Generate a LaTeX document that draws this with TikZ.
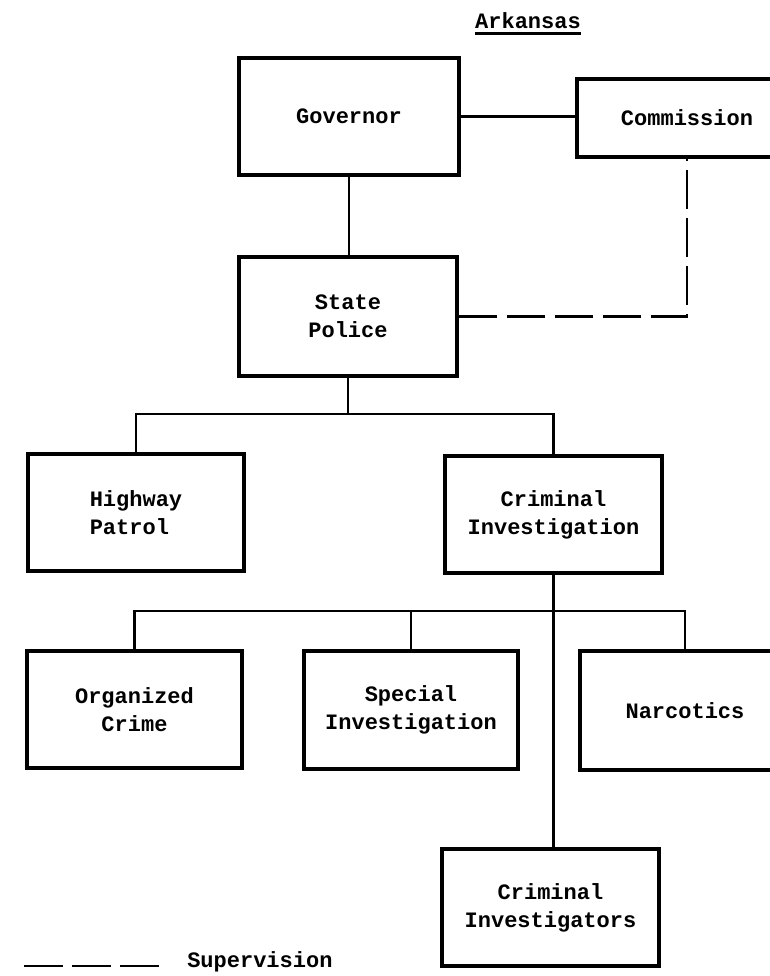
\documentclass[tikz,border=0pt]{standalone}
\usepackage{fontspec}
\setmonofont{Liberation Mono}
\begin{document}
\begin{tikzpicture}[x=0.75pt,y=-0.75pt,
  tw/.style={font=\ttfamily\bfseries\fontsize{16.5}{21}\selectfont},
  box/.style={tw, draw, line width=2.3pt, rectangle, inner sep=0pt, align=center},
  link/.style={line width=1.9pt},
  superv/.style={line width=2pt, dash pattern=on 29pt off 7pt}]
\clip (0,0) rectangle (770,976);
\fill[white] (0,0) rectangle (770,976);

% title
\node[tw, inner sep=0pt] (title) at (528,21) {Arkansas};
\draw[line width=1.6pt] ([yshift=-3.5pt]title.base west) -- ([yshift=-3.5pt]title.base east);

% boxes
\node[box, minimum width=165pt, minimum height=87.75pt] (gov) at (349,116.5) {Governor};
\node[box, minimum width=165pt, minimum height=58.5pt] (com) at (687,118) {Commission};
\node[box, minimum width=163.5pt, minimum height=89.25pt] (sp) at (348,316.5) {State\\Police};
\node[box, minimum width=162pt, minimum height=87.75pt, align=left] (hp) at (136,512.5) {Highway\\Patrol};
\node[box, minimum width=162.75pt, minimum height=87.75pt] (ci) at (553.5,514.5) {Criminal\\Investigation};
\node[box, minimum width=161.25pt, minimum height=87.75pt] (oc) at (134.5,709.5) {Organized\\Crime};
\node[box, minimum width=160.5pt, minimum height=88.5pt] (si) at (411,710) {Special\\Investigation};
\node[box, minimum width=157.5pt, minimum height=89.25pt] (nar) at (685,710.5) {Narcotics};
\node[box, minimum width=162.75pt, minimum height=87.75pt] (cis) at (550.5,907.5) {Criminal\\Investigators};

% connectors
\draw[link] (gov.east) -- (gov.east -| com.west);
\draw[link] (gov.south) -- (gov.south |- sp.north);
\draw[superv] (sp.east) -| (com.south);

\coordinate (b1) at (348,414);
\draw[link] (sp.south) -- (b1);
\draw[link] (hp.north) |- (b1) -| (ci.north);

\draw[link] (ci.south) -- (ci.south |- cis.north);
\coordinate (b2) at (553.5,611);
\draw[link] (oc.north) |- (b2) -| (nar.north);
\draw[link] (si.north) -- (si.north |- b2);

% legend
\coordinate (l1) at (24,966);
\coordinate (l2) at (163,966);
\draw[superv] (l1) -- (l2);
\node[tw, anchor=west, inner sep=0pt] (legend) at (187,962) {Supervision};
\end{tikzpicture}
\end{document}
